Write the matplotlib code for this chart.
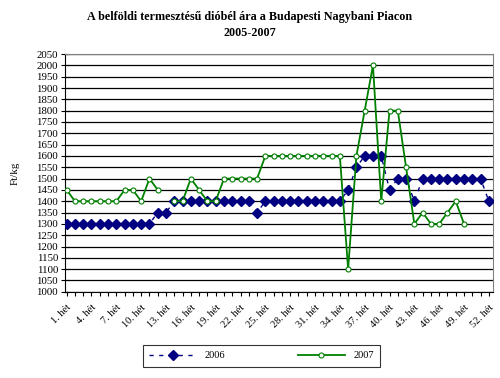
import numpy as np
import matplotlib
matplotlib.use("Agg")
import matplotlib.pyplot as plt

plt.rcParams['font.family'] = ['Liberation Serif', 'DejaVu Serif']

weeks = list(range(1, 53))
week_labels = [f"{w}. hét" for w in weeks]

price_2006 = ([1300] * 11 + [1350] * 2 + [1400] * 10 + [1350] + [1400] * 10 +
              [1450, 1550, 1600, 1600, 1600, 1450, 1500, 1500, 1400] +
              [1500] * 8 + [1400])

price_2007 = ([1450] + [1400] * 6 + [1450, 1450, 1400, 1500, 1450, None,
              1400, 1400, 1500, 1450, 1400, 1400] + [1500] * 5 + [1600] * 10 +
              [1100, 1600, 1800, 2000, 1400, 1800, 1800, 1550, 1300, 1350,
               1300, 1300, 1350, 1400, 1300])
price_2007 = price_2007 + [None] * (52 - len(price_2007))

y2006 = np.array(price_2006, dtype=float)
y2007 = np.array([np.nan if v is None else v for v in price_2007], dtype=float)

fig = plt.figure(figsize=(5, 3.78), dpi=100)
ax = fig.add_axes([0.13, 0.228, 0.856, 0.629])

ax.plot(weeks, y2006, color='#000080', linestyle=(0, (3, 4)), linewidth=1,
        marker='D', markersize=5.2, markerfacecolor='#000080',
        markeredgecolor='#000080', label='2006', zorder=3)
ax.plot(weeks, y2007, color='#008000', linewidth=1.3, marker='o',
        markersize=3.6, markerfacecolor='white', markeredgecolor='#008000',
        markeredgewidth=0.8, label='2007', zorder=4)

ax.set_xlim(0.8, 52.5)
ax.set_ylim(1000, 2050)
ax.set_yticks(np.arange(1000, 2051, 50))
ax.yaxis.grid(True, color='black', linewidth=0.9)
ax.set_axisbelow(True)
ax.tick_params(axis='y', labelsize=7.8, direction='inout', length=6, width=0.8, pad=2)

ax.set_xticks(weeks)
ax.set_xticklabels([lab if (w - 1) % 3 == 0 else '' for w, lab in zip(weeks, week_labels)],
                   rotation=45, ha='right', rotation_mode='anchor', fontsize=7.5)
ax.tick_params(axis='x', direction='out', length=3, width=0.8, pad=5)

for s in ax.spines.values():
    s.set_color('black')
    s.set_linewidth(0.8)
ax.spines['right'].set_color('#808080')
ax.spines['top'].set_color('#808080')

ax.set_ylabel('Ft/kg', fontsize=7.8)
ax.yaxis.set_label_coords(-0.105, 0.5)

fig.text(0.5, 0.955, 'A belföldi termesztésű dióbél ára a Budapesti Nagybani Piacon',
         ha='center', va='center', fontsize=8.7, fontweight='bold')
fig.text(0.5, 0.913, '2005-2007', ha='center', va='center', fontsize=8.7,
         fontweight='bold')

leg = fig.legend(loc='center', bbox_to_anchor=(0.523, 0.059), ncol=2,
                 fontsize=7.5, frameon=True, fancybox=False, edgecolor='black',
                 handlelength=4.5, columnspacing=7, borderpad=0.6)
leg.get_frame().set_linewidth(0.8)

fig.savefig('out.png', dpi=100)
